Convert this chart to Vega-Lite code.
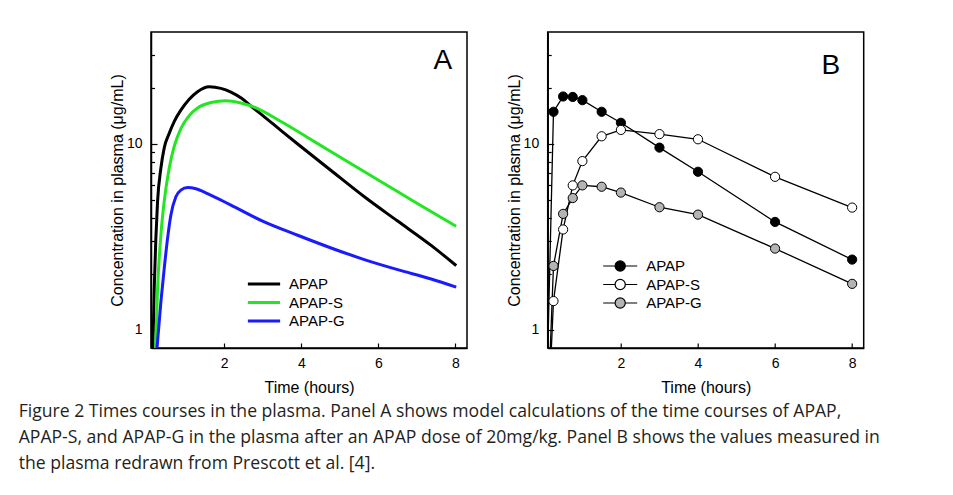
{
  "$schema": "https://vega.github.io/schema/vega-lite/v6.json",
  "autosize": {"type": "pad"},
  "padding": {"left": 18, "top": 31, "right": 0, "bottom": 0},
  "background": "white",
  "config": {
    "font": "Liberation Sans",
    "view": {"stroke": "black", "strokeWidth": 1.5},
    "axis": {
      "domainColor": "black", "domainWidth": 1.5,
      "tickColor": "black", "tickWidth": 1.2,
      "labelColor": "black", "labelFont": "Liberation Sans", "labelFontSize": 14,
      "titleFont": "Liberation Sans", "titleFontSize": 16, "titleFontWeight": "normal", "titleColor": "black",
      "grid": false
    },
    "legend": {"labelFont": "Liberation Sans", "labelFontSize": 15, "labelColor": "black", "padding": 0, "rowPadding": 0.5, "symbolOpacity": 1}
  },
  "title": {
    "text": [
      "Figure 2 Times courses in the plasma. Panel A shows model calculations of the time courses of APAP,",
      "APAP-S, and APAP-G in the plasma after an APAP dose of 20mg/kg. Panel B shows the values measured in",
      "the plasma redrawn from Prescott et al. [4]."
    ],
    "orient": "bottom", "anchor": "start", "dx": -90, "offset": 7,
    "font": "Open Sans", "fontSize": 17.6, "fontWeight": "normal",
    "lineHeight": 26, "color": "#231f20"
  },
  "datasets": {
    "labels": [{"panel": "A"}, {"panel": "B"}],
    "model": [
      {"s": "APAP", "t": 0.148, "c": 0.77}, {"s": "APAP", "t": 0.183, "c": 1.66}, {"s": "APAP", "t": 0.226, "c": 3.1},
      {"s": "APAP", "t": 0.27, "c": 4.9}, {"s": "APAP", "t": 0.356, "c": 7.4}, {"s": "APAP", "t": 0.442, "c": 9.5},
      {"s": "APAP", "t": 0.572, "c": 11.4}, {"s": "APAP", "t": 0.702, "c": 13.2}, {"s": "APAP", "t": 0.875, "c": 15.2},
      {"s": "APAP", "t": 1.092, "c": 17.4}, {"s": "APAP", "t": 1.308, "c": 19.1}, {"s": "APAP", "t": 1.61, "c": 20.3},
      {"s": "APAP", "t": 1.914, "c": 19.9}, {"s": "APAP", "t": 2.174, "c": 19.0}, {"s": "APAP", "t": 2.45, "c": 17.6},
      {"s": "APAP", "t": 2.74, "c": 15.7}, {"s": "APAP", "t": 3.04, "c": 14.0}, {"s": "APAP", "t": 3.5, "c": 11.7},
      {"s": "APAP", "t": 3.906, "c": 10.0}, {"s": "APAP", "t": 4.772, "c": 7.2},
      {"s": "APAP", "t": 5.636, "c": 5.2}, {"s": "APAP", "t": 6.5, "c": 3.85}, {"s": "APAP", "t": 7.369, "c": 2.85},
      {"s": "APAP", "t": 8.02, "c": 2.22},
      {"s": "APAP-S", "t": 0.217, "c": 0.78}, {"s": "APAP-S", "t": 0.27, "c": 1.66}, {"s": "APAP-S", "t": 0.356, "c": 3.23},
      {"s": "APAP-S", "t": 0.442, "c": 4.9}, {"s": "APAP-S", "t": 0.572, "c": 7.4}, {"s": "APAP-S", "t": 0.702, "c": 9.7},
      {"s": "APAP-S", "t": 0.875, "c": 12.1}, {"s": "APAP-S", "t": 1.092, "c": 14.2}, {"s": "APAP-S", "t": 1.308, "c": 15.6},
      {"s": "APAP-S", "t": 1.654, "c": 16.7}, {"s": "APAP-S", "t": 2.044, "c": 17.1}, {"s": "APAP-S", "t": 2.434, "c": 16.6},
      {"s": "APAP-S", "t": 2.867, "c": 15.5}, {"s": "APAP-S", "t": 3.473, "c": 13.2}, {"s": "APAP-S", "t": 4.339, "c": 10.3},
      {"s": "APAP-S", "t": 5.205, "c": 8.02}, {"s": "APAP-S", "t": 6.07, "c": 6.27}, {"s": "APAP-S", "t": 6.935, "c": 4.89},
      {"s": "APAP-S", "t": 8.02, "c": 3.61},
      {"s": "APAP-G", "t": 0.252, "c": 0.78}, {"s": "APAP-G", "t": 0.356, "c": 1.41}, {"s": "APAP-G", "t": 0.442, "c": 2.13},
      {"s": "APAP-G", "t": 0.529, "c": 3.1}, {"s": "APAP-G", "t": 0.615, "c": 4.14}, {"s": "APAP-G", "t": 0.745, "c": 5.2},
      {"s": "APAP-G", "t": 0.875, "c": 5.65}, {"s": "APAP-G", "t": 1.05, "c": 5.83}, {"s": "APAP-G", "t": 1.265, "c": 5.75},
      {"s": "APAP-G", "t": 1.568, "c": 5.41}, {"s": "APAP-G", "t": 2.174, "c": 4.69}, {"s": "APAP-G", "t": 3.04, "c": 3.81},
      {"s": "APAP-G", "t": 3.906, "c": 3.23}, {"s": "APAP-G", "t": 4.772, "c": 2.76}, {"s": "APAP-G", "t": 5.636, "c": 2.39},
      {"s": "APAP-G", "t": 6.5, "c": 2.11}, {"s": "APAP-G", "t": 7.369, "c": 1.88}, {"s": "APAP-G", "t": 8.02, "c": 1.70}
    ],
    "measured": [
      {"s": "APAP", "t": 0, "c": 0.1}, {"s": "APAP", "t": 0.25, "c": 14.9}, {"s": "APAP", "t": 0.5, "c": 18.0},
      {"s": "APAP", "t": 0.75, "c": 17.9}, {"s": "APAP", "t": 1, "c": 17.2}, {"s": "APAP", "t": 1.5, "c": 14.9},
      {"s": "APAP", "t": 2, "c": 13.0}, {"s": "APAP", "t": 3, "c": 9.56}, {"s": "APAP", "t": 4, "c": 7.09},
      {"s": "APAP", "t": 6, "c": 3.81}, {"s": "APAP", "t": 8, "c": 2.39},
      {"s": "APAP-S", "t": 0, "c": 0.1}, {"s": "APAP-S", "t": 0.25, "c": 1.43}, {"s": "APAP-S", "t": 0.5, "c": 3.47},
      {"s": "APAP-S", "t": 0.75, "c": 5.99}, {"s": "APAP-S", "t": 1, "c": 8.09}, {"s": "APAP-S", "t": 1.5, "c": 11.0},
      {"s": "APAP-S", "t": 2, "c": 11.9}, {"s": "APAP-S", "t": 3, "c": 11.3}, {"s": "APAP-S", "t": 4, "c": 10.6},
      {"s": "APAP-S", "t": 6, "c": 6.66}, {"s": "APAP-S", "t": 8, "c": 4.55},
      {"s": "APAP-G", "t": 0, "c": 0.1}, {"s": "APAP-G", "t": 0.25, "c": 2.21}, {"s": "APAP-G", "t": 0.5, "c": 4.21},
      {"s": "APAP-G", "t": 0.75, "c": 5.12}, {"s": "APAP-G", "t": 1, "c": 5.99}, {"s": "APAP-G", "t": 1.5, "c": 5.89},
      {"s": "APAP-G", "t": 2, "c": 5.48}, {"s": "APAP-G", "t": 3, "c": 4.57}, {"s": "APAP-G", "t": 4, "c": 4.17},
      {"s": "APAP-G", "t": 6, "c": 2.74}, {"s": "APAP-G", "t": 8, "c": 1.77}
    ]
  },
  "resolve": {"legend": {"color": "independent", "fill": "independent"}},
  "bounds": "flush",
  "spacing": 80.7,
  "hconcat": [
    {
      "width": 316, "height": 316,
      "layer": [
        {
          "data": {"name": "model"},
          "mark": {"type": "line", "strokeWidth": 3, "interpolate": "monotone", "clip": true},
          "encoding": {
            "x": {"field": "t", "type": "quantitative",
              "scale": {"domain": [0.1, 8.3], "nice": false, "zero": false},
              "axis": {"values": [2, 4, 6, 8], "format": "d", "tickSize": -5, "labelPadding": 13, "titlePadding": 9, "title": "Time (hours)"}},
            "y": {"field": "c", "type": "quantitative",
              "scale": {"type": "log", "domain": [0.8, 40], "nice": false},
              "axis": {"values": [1, 2, 3, 4, 5, 6, 7, 8, 9, 10, 20, 30],
                "labelExpr": "datum.value == 1 || datum.value == 10 ? format(datum.value, 'd') : ''",
                "tickSize": {"condition": {"test": "datum.value == 1 || datum.value == 10", "value": -6}, "value": -3.5},
                "labelPadding": 15, "titlePadding": 1, "title": "Concentration in plasma (μg/mL)"}},
            "color": {"field": "s", "type": "nominal",
              "scale": {"domain": ["APAP", "APAP-S", "APAP-G"], "range": ["#000000", "#22e622", "#1a1aff"]},
              "legend": {"title": null, "orient": "none", "legendX": 103, "legendY": 242,
                "symbolType": "M-2,0H2", "symbolSize": 260, "symbolStrokeWidth": 3, "labelOffset": 15}}
          }
        },
        {
          "data": {"name": "labels"},
          "transform": [{"filter": "datum.panel == 'A'"}],
          "mark": {"type": "text", "align": "right", "baseline": "alphabetic", "fontSize": 28, "font": "Liberation Sans", "color": "black"},
          "encoding": {
            "x": {"datum": 7.914, "type": "quantitative"},
            "y": {"datum": 25.2, "type": "quantitative"},
            "text": {"field": "panel"}
          }
        }
      ]
    },
    {
      "width": 316, "height": 316,
      "layer": [
        {
          "data": {"name": "measured"},
          "mark": {"type": "line", "color": "black", "strokeWidth": 1.3, "clip": true},
          "encoding": {
            "x": {"field": "t", "type": "quantitative",
              "scale": {"domain": [0.1, 8.3], "nice": false, "zero": false},
              "axis": {"values": [2, 4, 6, 8], "format": "d", "tickSize": -5, "labelPadding": 13, "titlePadding": 9, "title": "Time (hours)"}},
            "y": {"field": "c", "type": "quantitative",
              "scale": {"type": "log", "domain": [0.8, 40], "nice": false},
              "axis": {"values": [1, 2, 3, 4, 5, 6, 7, 8, 9, 10, 20, 30],
                "labelExpr": "datum.value == 1 || datum.value == 10 ? format(datum.value, 'd') : ''",
                "tickSize": {"condition": {"test": "datum.value == 1 || datum.value == 10", "value": -6}, "value": -3.5},
                "labelPadding": 15, "titlePadding": 1, "title": "Concentration in plasma (μg/mL)"}},
            "detail": {"field": "s", "type": "nominal"}
          }
        },
        {
          "data": {"name": "measured"},
          "transform": [{"filter": "datum.t > 0"}],
          "mark": {"type": "point", "shape": "circle", "filled": true, "stroke": "black", "strokeWidth": 1, "size": 85, "opacity": 1, "clip": true},
          "encoding": {
            "x": {"field": "t", "type": "quantitative"},
            "y": {"field": "c", "type": "quantitative"},
            "fill": {"field": "s", "type": "nominal",
              "scale": {"domain": ["APAP", "APAP-S", "APAP-G"], "range": ["#000000", "#ffffff", "#b4b4b4"]},
              "legend": {"title": null, "orient": "none", "legendX": 63, "legendY": 224.5,
                "symbolType": "M-2,0H-0.6M0.6,0A0.6,0.6 0 1,1 -0.6,0A0.6,0.6 0 1,1 0.6,0M0.6,0H2",
                "symbolSize": 289, "symbolStrokeColor": "black", "symbolStrokeWidth": 1.2, "labelOffset": 16.5}}
          }
        },
        {
          "data": {"name": "labels"},
          "transform": [{"filter": "datum.panel == 'B'"}],
          "mark": {"type": "text", "align": "right", "baseline": "alphabetic", "fontSize": 28, "font": "Liberation Sans", "color": "black"},
          "encoding": {
            "x": {"datum": 7.69, "type": "quantitative"},
            "y": {"datum": 23.9, "type": "quantitative"},
            "text": {"field": "panel"}
          }
        }
      ]
    }
  ]
}
